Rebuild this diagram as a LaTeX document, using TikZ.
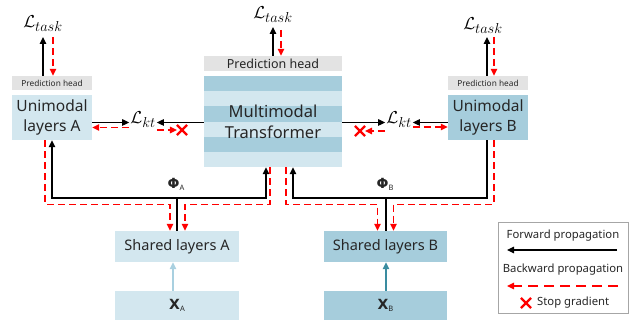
\documentclass[tikz,border=0pt]{standalone}
\usepackage{fontspec}
\setmainfont{Noto Sans}
\newfontfamily\symfont{DejaVu Sans}
\usetikzlibrary{arrows.meta,shapes.misc}

\definecolor{lightblue}{HTML}{D3E7EF}
\definecolor{darkblue}{HTML}{A6CDDC}
\definecolor{headgray}{HTML}{E3E3E3}
\definecolor{gradred}{HTML}{FF0000}
\definecolor{inA}{HTML}{A9D0E0}
\definecolor{inB}{HTML}{3A8CA0}
\definecolor{legendframe}{HTML}{A6A6A6}

\newcommand{\symsub}[2]{{\fontsize{14}{14}\selectfont\symfont\bfseries #1}{\fontsize{7.5}{7.5}\selectfont\raisebox{-2pt}{#2}}}

\tikzset{
  block/.style={inner sep=0pt, align=center, text=black!85},
  headbox/.style={block, fill=headgray},
  loss/.style={inner sep=1pt, font=\fontsize{19}{20}\selectfont},
  fwd/.style={draw=black, line width=1.2pt, -{Triangle[length=7pt,width=6.5pt]}},
  plain/.style={draw=black, line width=1.2pt},
  bwd/.style={draw=gradred, line width=1.3pt, dash pattern=on 7pt off 4pt, -{Triangle[length=7pt,width=6.5pt]}},
  stopgrad/.style={cross out, draw=gradred, line width=2.2pt, minimum size=8pt, inner sep=0pt},
  lbl/.style={inner sep=0pt, text=black!85},
}

\begin{document}
\begin{tikzpicture}[x=1pt, y=-1pt]
\useasboundingbox (0,0) rectangle (633,320);

% ---------- Multimodal transformer (striped block) ----------
\foreach \i in {0,...,5}{
  \pgfmathsetmacro{\ya}{76+\i*15.2}
  \pgfmathsetmacro{\yb}{76+(\i+1)*15.2}
  \ifodd\i
    \fill[lightblue] (204,\ya) rectangle (342,\yb);
  \else
    \fill[darkblue] (204,\ya) rectangle (342,\yb);
  \fi
}
\node[block, minimum width=138pt, minimum height=91pt,
      font=\fontsize{16.5}{21}\selectfont] (mt) at (273,121.5) {Multimodal\\Transformer};
\node[headbox, minimum width=138pt, minimum height=15pt,
      font=\fontsize{12.5}{13}\selectfont] (phM) at (273,63.5) {Prediction head};

% ---------- unimodal branches ----------
\node[block, fill=lightblue, minimum width=80pt, minimum height=45pt,
      font=\fontsize{15.5}{19.5}\selectfont] (uA) at (52,117.5) {Unimodal\\layers A};
\node[headbox, minimum width=80pt, minimum height=14pt,
      font=\fontsize{8.3}{9}\selectfont] (phA) at (52,83) {Prediction head};

\node[block, fill=darkblue, minimum width=80pt, minimum height=45pt,
      font=\fontsize{15.5}{19.5}\selectfont] (uB) at (488,117.5) {Unimodal\\layers B};
\node[headbox, minimum width=80pt, minimum height=14pt,
      font=\fontsize{8.3}{9}\selectfont] (phB) at (488,83) {Prediction head};

% ---------- shared layers and inputs ----------
\node[block, fill=lightblue, minimum width=124pt, minimum height=31pt,
      font=\fontsize{14.5}{15}\selectfont] (sA) at (177,246.5) {Shared layers A};
\node[block, fill=lightblue, minimum width=124pt, minimum height=29pt] (xA) at (177,305.5)
      {\symsub{X}{A}};

\node[block, fill=darkblue, minimum width=123pt, minimum height=31pt,
      font=\fontsize{14.5}{15}\selectfont] (sB) at (385.5,246.5) {Shared layers B};
\node[block, fill=darkblue, minimum width=123pt, minimum height=29pt] (xB) at (385.5,305.5)
      {\symsub{X}{B}};

% ---------- losses ----------
\node[loss] (LtA) at (43,24) {$\mathcal{L}_{task}$};
\node[loss] (LtM) at (273,15) {$\mathcal{L}_{task}$};
\node[loss] (LtB) at (483,26) {$\mathcal{L}_{task}$};
\node[loss] (LkA) at (143,120) {$\mathcal{L}_{kt}$};
\node[loss] (LkB) at (399,120) {$\mathcal{L}_{kt}$};

% ---------- task heads ----------
\draw[fwd] ([xshift=-9pt]phA.north) -- ([xshift=-9pt]phA.north |- 0,37);
\draw[bwd] ([xshift=1pt]phA.north |- 0,37) -- ([xshift=1pt]phA.north);
\draw[fwd] (phM.north) -- (phM.north |- 0,27);
\draw[bwd] ([xshift=8pt]phM.north |- 0,30) -- ([xshift=8pt]phM.north);
\draw[fwd] ([xshift=-1pt]phB.north) -- ([xshift=-1pt]phB.north |- 0,37);
\draw[bwd] ([xshift=6pt]phB.north |- 0,37) -- ([xshift=6pt]phB.north);

% ---------- knowledge transfer losses ----------
\draw[fwd] (uA.east |- 0,122.5) -- (LkA.west |- 0,122.5);
\draw[bwd] (LkA.west |- 0,127.5) -- (uA.east |- 0,127.5);
\draw[fwd] (mt.west |- 0,122.5) -- (LkA.east |- 0,122.5);
\node[stopgrad] (sgA) at (182,130) {};
\draw[bwd] (LkA.east |- 0,130) -- (sgA.west);

\draw[fwd] (mt.east |- 0,122.5) -- (LkB.west |- 0,122.5);
\node[stopgrad] (sgB) at (360,131) {};
\draw[bwd] (LkB.west |- 0,131) -- (sgB.east);
\draw[fwd] (uB.west |- 0,122.5) -- (LkB.east |- 0,122.5);
\draw[bwd] (LkB.east |- 0,127) -- (uB.west |- 0,127);

% ---------- shared representation A ----------
\coordinate (jA) at (177,198);
\draw[plain] (sA.north) -- (jA);
\draw[fwd] (jA) -| (uA.south);
\draw[fwd] (jA) -| ([xshift=-7pt]mt.south);
\node[lbl] (phiA) at (176,184) {\symsub{Φ}{A}};
\draw[bwd] ([xshift=-7pt]uA.south) -- ++(0,64) -| ([xshift=-7pt]sA.north);
\draw[bwd] ([xshift=-3pt]mt.south) -- ++(0,37) -| ([xshift=8pt]sA.north);

% ---------- shared representation B ----------
\coordinate (jB) at (386,198);
\draw[plain] (sB.north -| jB) -- (jB);
\draw[fwd] (jB) -| ([xshift=20pt]mt.south);
\draw[plain] (jB) -| ([xshift=-1pt]uB.south);
\node[lbl] (phiB) at (385,184) {\symsub{Φ}{B}};
\draw[bwd] ([xshift=13pt]mt.south) -- ++(0,37) -| ([xshift=-8pt]sB.north);
\draw[bwd] ([xshift=6pt]uB.south) -- ++(0,64) -| ([xshift=8pt]sB.north);

% ---------- inputs ----------
\draw[draw=inA, line width=1.2pt, -{Triangle[length=7pt,width=6.5pt]}]
  ([xshift=-4pt]xA.north) -- ([xshift=-4pt]sA.south);
\draw[draw=inB, line width=1.2pt, -{Triangle[length=7pt,width=6.5pt]}]
  ([xshift=0.5pt]xB.north) -- ([xshift=0.5pt]sB.south);

% ---------- legend ----------
\node[draw=legendframe, line width=0.6pt, minimum width=130pt, minimum height=91pt,
      inner sep=0pt] (legend) at (563,267.5) {};
\node[lbl, font=\fontsize{11.3}{12}\selectfont] (lgF) at (563,236) {Forward propagation};
\coordinate (fA) at (617,250);
\coordinate (fB) at (507,250);
\draw[fwd] (fA) -- (fB);
\node[lbl, font=\fontsize{11.3}{12}\selectfont] (lgB) at (563,270) {Backward propagation};
\coordinate (bA) at (618,286);
\coordinate (bB) at (507,286);
\draw[bwd, dash pattern=on 10pt off 6pt] (bA) -- (bB);
\node[stopgrad] (lgX) at (526,303) {};
\node[lbl, font=\fontsize{11.3}{12}\selectfont, anchor=west] (lgS) at (537,303) {Stop gradient};
\end{tikzpicture}
\end{document}
